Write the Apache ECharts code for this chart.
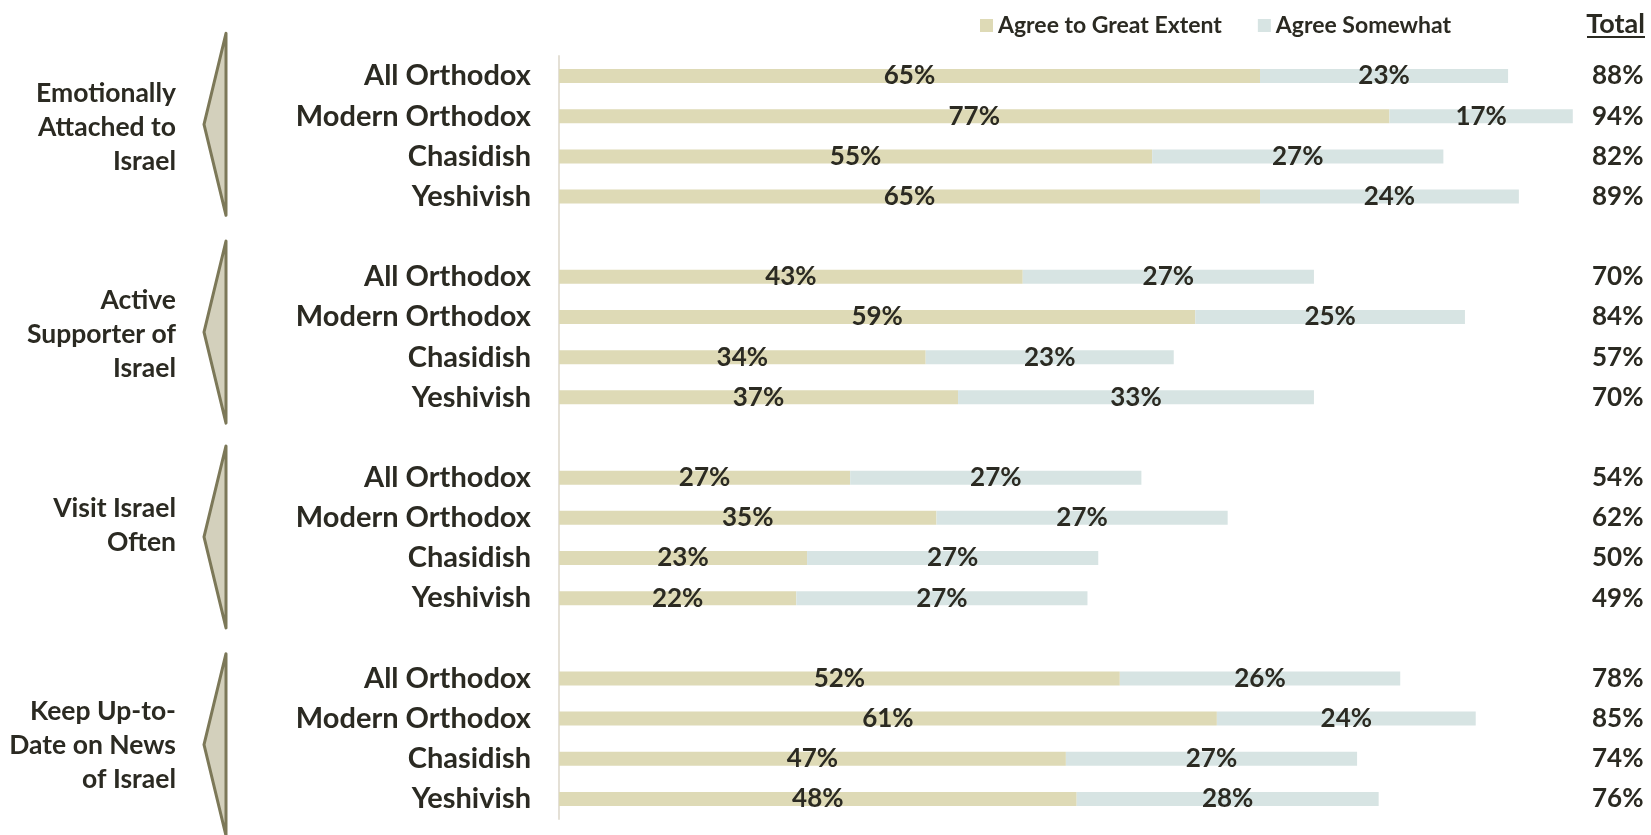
<!DOCTYPE html>
<html>
<head>
<meta charset="utf-8">
<script src="https://cdn.jsdelivr.net/npm/echarts@6/dist/echarts.min.js"></script>
<style>
  html, body { margin: 0; padding: 0; background: #fff; }
  #chart { width: 1651px; height: 835px; }
</style>
</head>
<body>
<div id="chart"></div>
<script>
// groups (each has 4 sub rows)
var groupNames = ['Emotionally\nAttached to\nIsrael', 'Active\nSupporter of\nIsrael', 'Visit Israel\nOften', 'Keep Up-to-\nDate on News\nof Israel'];
var subgroups = ['All Orthodox', 'Modern Orthodox', 'Chasidish', 'Yeshivish'];
var greatExtent = [65, 77, 55, 65, 43, 59, 34, 37, 27, 35, 23, 22, 52, 61, 47, 48];
var somewhat = [23, 17, 27, 24, 27, 25, 23, 33, 27, 27, 27, 27, 26, 24, 27, 28];
var totals = [88, 94, 82, 89, 70, 84, 57, 70, 54, 62, 50, 49, 78, 85, 74, 76];

var FONT = 'Lato, "Open Sans", sans-serif';
var INK = '#2b2a22';
// brackets in the original sit a bit off the group centre
var bracketShift = [-12, -5, -1, 6];
var textShift = [-9, -3, -12, 7];

// spread rows out, with an empty row between the groups
var cats = [], totalCats = [], gData = [], sData = [], groupRows = [];
for (var g = 0; g < groupNames.length; g++) {
  if (g > 0) { cats.push(''); totalCats.push(''); gData.push('-'); sData.push('-'); }
  groupRows.push(cats.length);
  for (var s = 0; s < subgroups.length; s++) {
    var i = g * subgroups.length + s;
    cats.push(subgroups[s]);
    totalCats.push(totals[i] + '%');
    gData.push(greatExtent[i]);
    sData.push(somewhat[i]);
  }
}

var chart = echarts.init(document.getElementById('chart'));

var labelStyle = {
  show: true,
  position: 'inside',
  formatter: '{c}%',
  color: INK,
  fontFamily: FONT,
  fontWeight: 'bold',
  fontSize: 26
};

chart.setOption({
  animation: false,
  textStyle: { fontFamily: FONT },
  legend: {
    left: 975,
    top: 9,
    icon: 'rect',
    itemWidth: 13,
    itemHeight: 13,
    itemGap: 36,
    textStyle: { color: INK, fontSize: 23, fontWeight: 'bold', fontFamily: FONT },
    data: ['Agree to Great Extent', 'Agree Somewhat']
  },
  grid: { left: 559, right: 13.5, top: 56, bottom: 16 },
  xAxis: { type: 'value', min: 0, max: 100, show: false },
  yAxis: [{
    type: 'category',
    inverse: true,
    data: cats,
    axisTick: { show: false },
    axisLine: { show: true, lineStyle: { color: '#e4e0d6', width: 2 } },
    axisLabel: { interval: 0, margin: 28, color: INK, fontFamily: FONT, fontWeight: 'bold', fontSize: 29 }
  }, {
    type: 'category',
    inverse: true,
    position: 'right',
    data: totalCats,
    axisTick: { show: false },
    axisLine: { show: false },
    axisLabel: { interval: 0, margin: 6, align: 'right', color: INK, fontFamily: FONT, fontWeight: 'bold', fontSize: 26 }
  }],
  series: [{
    name: 'Agree to Great Extent',
    type: 'bar',
    stack: 'all',
    barWidth: 14,
    itemStyle: { color: '#dedab6' },
    label: labelStyle,
    data: gData
  }, {
    name: 'Agree Somewhat',
    type: 'bar',
    stack: 'all',
    barWidth: 14,
    itemStyle: { color: '#d7e4e3' },
    label: labelStyle,
    data: sData
  }]
});

// side brackets and group names, placed from the category axis
var graphics = [];
groupRows.forEach(function (r, k) {
  var y0 = chart.convertToPixel({ yAxisIndex: 0 }, r);
  var y1 = chart.convertToPixel({ yAxisIndex: 0 }, r + subgroups.length - 1);
  var mid = (y0 + y1) / 2;
  var bm = mid + bracketShift[k];
  graphics.push({
    type: 'polygon',
    shape: { points: [[226, bm - 91], [204, bm], [226, bm + 91]] },
    style: { fill: '#d3d0bc', stroke: '#7c7858', lineWidth: 3, lineJoin: 'round' }
  });
  graphics.push({
    type: 'text',
    x: 176,
    y: mid + textShift[k],
    style: {
      text: groupNames[k],
      align: 'right',
      verticalAlign: 'middle',
      fill: INK,
      font: 'bold 26.5px ' + FONT,
      lineHeight: 34
    }
  });
});
graphics.push({
  type: 'text', x: 1645, y: 24,
  style: { text: 'Total', align: 'right', verticalAlign: 'middle', fill: INK, font: 'bold 27px ' + FONT }
});
graphics.push({
  type: 'line', shape: { x1: 1587, y1: 37, x2: 1645, y2: 37 },
  style: { stroke: INK, lineWidth: 2 }
});
chart.setOption({ graphic: graphics });
</script>
</body>
</html>
